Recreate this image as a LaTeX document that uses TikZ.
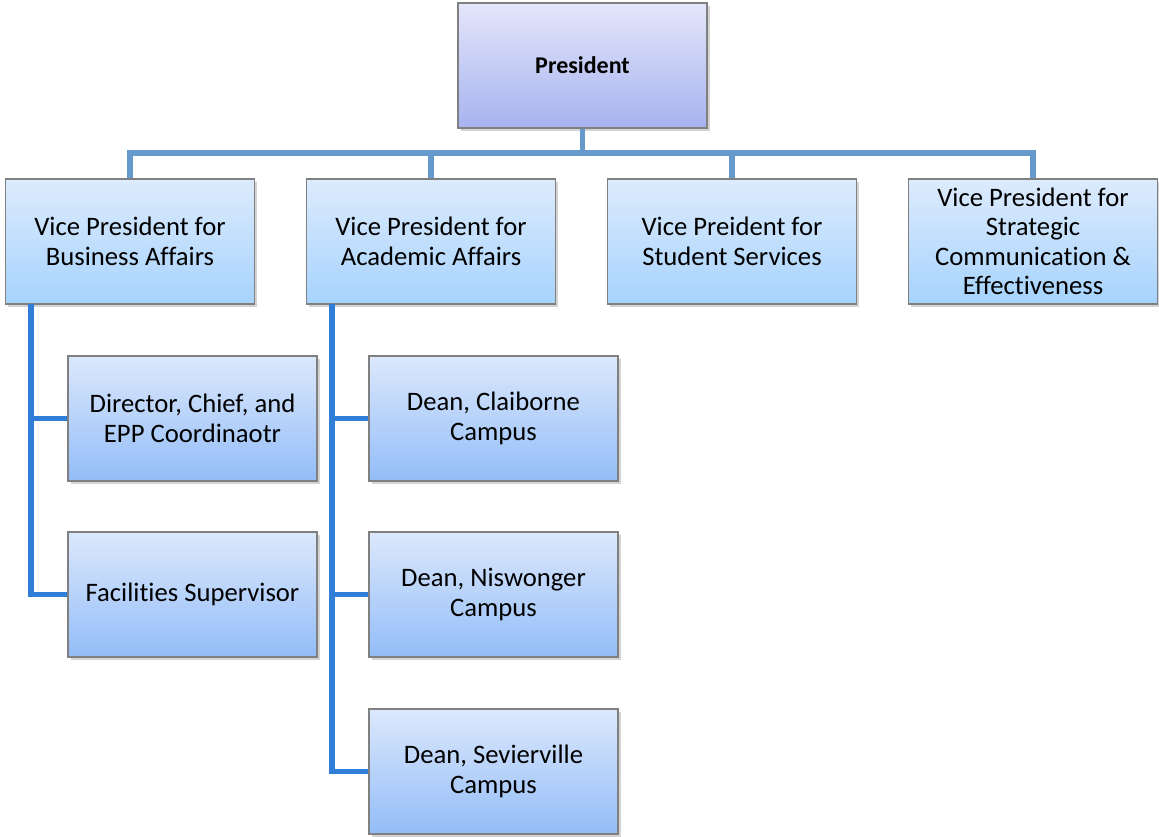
\documentclass[tikz,border=0pt]{standalone}
\usepackage{fontspec}
\setmainfont{Carlito}[Ligatures=NoCommon]
\usetikzlibrary{shadows}
\definecolor{topline}{HTML}{6699CC}
\definecolor{subline}{HTML}{2F7FD8}
\definecolor{ptop}{HTML}{E4E6FA}
\definecolor{pbot}{HTML}{A7B3EF}
\definecolor{vtop}{HTML}{DDEBFD}
\definecolor{vbot}{HTML}{A6D3FD}
\definecolor{dtop}{HTML}{DCE8FC}
\definecolor{dbot}{HTML}{93BDF8}
\definecolor{edge}{HTML}{808080}
\tikzset{
  box/.style={draw=edge, line width=0.8pt, minimum width=186.75pt, minimum height=93.75pt,
    align=center, inner sep=2pt,
    drop shadow={opacity=0.35, shadow xshift=2pt, shadow yshift=-2pt},
    font=\fontsize{20}{22}\selectfont},
  presbox/.style={box, top color=ptop, bottom color=pbot, font=\fontsize{18}{21}\selectfont\bfseries},
  vpbox/.style={box, top color=vtop, bottom color=vbot},
  subbox/.style={box, top color=dtop, bottom color=dbot},
  conntop/.style={draw=topline, line width=4pt},
  connsub/.style={draw=subline, line width=4pt},
}
\begin{document}
\begin{tikzpicture}[x=0.75pt,y=-0.75pt]
\useasboundingbox (0,0) rectangle (1159,837);
\coordinate (bus) at (0,153);
\coordinate (bl) at (31,304);
\coordinate (al) at (332,304);

\node[presbox] (pres) at (582.5,65.5) {President};
\node[vpbox] (vpb) at (130,241.5) {Vice President for\\Business Affairs};
\node[vpbox] (vpa) at (431,241.5) {Vice President for\\Academic Affairs};
\node[vpbox] (vps) at (732,241.5) {Vice Preident for\\Student Services};
\node[vpbox] (vpc) at (1033,241.5) {Vice President for\\Strategic\\Communication \&\\Effectiveness};
\node[subbox] (dir) at (192.5,418.5) {Director, Chief, and\\EPP Coordinaotr};
\node[subbox] (fac) at (192.5,594.5) {Facilities Supervisor};
\node[subbox] (dcl) at (493.5,418.5) {Dean, Claiborne\\Campus};
\node[subbox] (dni) at (493.5,594.5) {Dean, Niswonger\\Campus};
\node[subbox] (dse) at (493.5,771.5) {Dean, Sevierville\\Campus};

\draw[conntop] (pres.south) -- (pres.south |- bus);
\draw[conntop] (pres.south |- bus) -| (vpb.north);
\draw[conntop] (pres.south |- bus) -| (vpa.north);
\draw[conntop] (pres.south |- bus) -| (vps.north);
\draw[conntop] (pres.south |- bus) -| (vpc.north);

\draw[connsub] (bl) |- (dir.west);
\draw[connsub] (bl) |- (fac.west);
\draw[connsub] (al) |- (dcl.west);
\draw[connsub] (al) |- (dni.west);
\draw[connsub] (al) |- (dse.west);
\end{tikzpicture}
\end{document}
